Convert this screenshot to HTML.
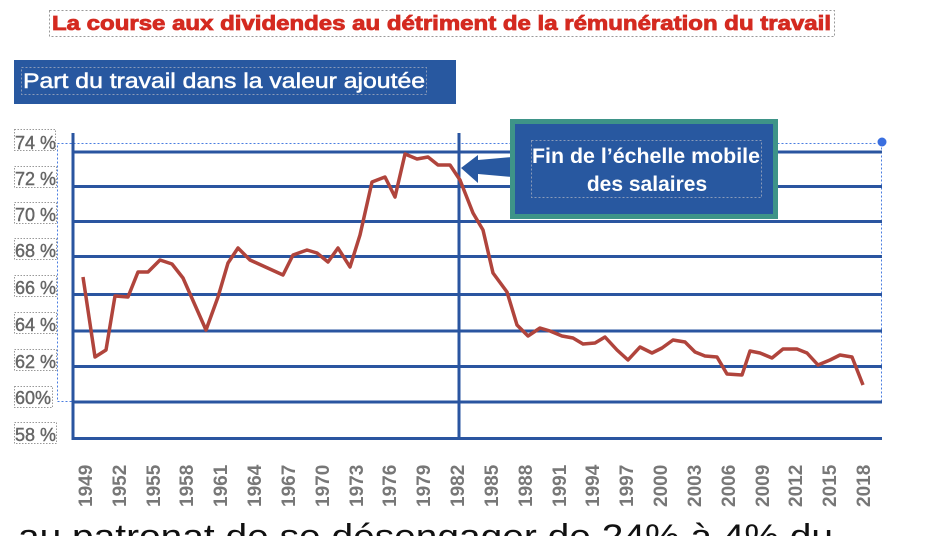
<!DOCTYPE html>
<html><head><meta charset="utf-8"><style>
html,body{margin:0;padding:0;background:#fff;width:940px;height:536px;overflow:hidden}
svg{display:block}
</style></head><body>
<svg width="940" height="536" viewBox="0 0 940 536" xmlns="http://www.w3.org/2000/svg" font-family="Liberation Sans, sans-serif">
<!-- title -->
<rect x="49.5" y="10.5" width="785" height="26" fill="none" stroke="#999" stroke-dasharray="2,2"/>
<text x="52" y="30" font-size="20" font-weight="bold" fill="#d42a20" stroke="#d42a20" stroke-width="0.8" textLength="779" lengthAdjust="spacingAndGlyphs">La course aux dividendes au détriment de la rémunération du travail</text>
<!-- subtitle box -->
<rect x="14" y="60" width="442" height="44" fill="#2858a0"/>
<rect x="21.5" y="67.5" width="405" height="27" fill="none" stroke="#8a9ab8" stroke-dasharray="2,2"/>
<text x="23" y="88" font-size="21" fill="#fff" stroke="#fff" stroke-width="0.5" textLength="402" lengthAdjust="spacingAndGlyphs">Part du travail dans la valeur ajoutée</text>
<!-- y labels -->
<g font-size="18" fill="#666" stroke="#666" stroke-width="0.4">
<text x="15" y="149">74 %</text>
<text x="15" y="185">72 %</text>
<text x="15" y="221">70 %</text>
<text x="15" y="257">68 %</text>
<text x="15" y="294">66 %</text>
<text x="15" y="331">64 %</text>
<text x="15" y="368">62 %</text>
<text x="15" y="404">60%</text>
<text x="15" y="441">58 %</text>
</g>
<g fill="none" stroke="#999" stroke-dasharray="1.5,1.5">
<rect x="14.5" y="129.5" width="41" height="21"/>
<rect x="14.5" y="166.5" width="42" height="21"/>
<rect x="14.5" y="202.5" width="42" height="21"/>
<rect x="14.5" y="238.5" width="42" height="21"/>
<rect x="14.5" y="275.5" width="42" height="21"/>
<rect x="14.5" y="312.5" width="42" height="21"/>
<rect x="14.5" y="349.5" width="42" height="21"/>
<rect x="14.5" y="386.5" width="38" height="21"/>
<rect x="14.5" y="422.5" width="42" height="21"/>
</g>
<!-- selection dotted -->
<rect x="57.5" y="143.5" width="824" height="258" fill="none" stroke="#4a7de0" stroke-dasharray="2,2"/>
<!-- grid -->
<g stroke="#2a55a0" stroke-width="3">
<line x1="73" y1="152" x2="882" y2="152"/>
<line x1="73" y1="186.5" x2="882" y2="186.5"/>
<line x1="73" y1="221.5" x2="882" y2="221.5"/>
<line x1="73" y1="256.5" x2="882" y2="256.5"/>
<line x1="73" y1="294.5" x2="882" y2="294.5"/>
<line x1="73" y1="331" x2="882" y2="331"/>
<line x1="73" y1="366.5" x2="882" y2="366.5"/>
<line x1="73" y1="402" x2="882" y2="402"/>
<line x1="73" y1="438.5" x2="882" y2="438.5"/>
<line x1="73" y1="133" x2="73" y2="440"/>
<line x1="459" y1="133" x2="459" y2="440"/>
</g>
<circle cx="882" cy="142" r="5" fill="#3a6fe0" stroke="#fff" stroke-width="1"/>
<!-- series -->
<polyline fill="none" stroke="#b0443c" stroke-width="3.5" stroke-linejoin="round" points="83,277 95,357 106,350 115,296 128,297 138,272 148,272 160,260 172,264 183,278 206,330 218,297 228,263 238,248 250,260 283,275 293,255 307,250 317,253 328,262 338,248 350,267 360,235 372,182 385,177 395,197 405,154 417,159 428,157 438,165 450,165 460,180 473,213 483,230 493,273 507,292 517,325 528,336 540,328 550,331 562,336 573,338 583,344 595,343 605,337 617,350 628,360 640,347 652,353 662,348 673,340 685,342 695,352 705,356 717,357 727,374 742,375 750,351 760,353 772,358 783,349 797,349 807,353 818,365 830,360 840,355 852,357 863,385"/>
<!-- arrow -->
<polygon points="461,168 478,155 478,160 512,157 512,177 478,174 478,183" fill="#2858a0"/>
<!-- annotation box -->
<rect x="510" y="119" width="268" height="100" fill="#3e9488"/>
<rect x="515" y="124" width="258" height="90" fill="#2858a0"/>
<rect x="531.5" y="140.5" width="230" height="57" fill="none" stroke="#8a9ab8" stroke-dasharray="2,2"/>
<g font-size="21" font-weight="bold" fill="#fff" text-anchor="middle" font-family="Liberation Sans Narrow, Liberation Sans, sans-serif">
<text x="646" y="163" textLength="228" lengthAdjust="spacingAndGlyphs">Fin de l’échelle mobile</text>
<text x="647" y="191">des salaires</text>
</g>
<!-- x labels -->
<g font-size="19" font-weight="bold" fill="#777">
<text transform="translate(92,507) rotate(-90)">1949</text>
<text transform="translate(126,507) rotate(-90)">1952</text>
<text transform="translate(160,507) rotate(-90)">1955</text>
<text transform="translate(193,507) rotate(-90)">1958</text>
<text transform="translate(227,507) rotate(-90)">1961</text>
<text transform="translate(261,507) rotate(-90)">1964</text>
<text transform="translate(295,507) rotate(-90)">1967</text>
<text transform="translate(329,507) rotate(-90)">1970</text>
<text transform="translate(363,507) rotate(-90)">1973</text>
<text transform="translate(396,507) rotate(-90)">1976</text>
<text transform="translate(430,507) rotate(-90)">1979</text>
<text transform="translate(464,507) rotate(-90)">1982</text>
<text transform="translate(498,507) rotate(-90)">1985</text>
<text transform="translate(532,507) rotate(-90)">1988</text>
<text transform="translate(566,507) rotate(-90)">1991</text>
<text transform="translate(599,507) rotate(-90)">1994</text>
<text transform="translate(633,507) rotate(-90)">1997</text>
<text transform="translate(667,507) rotate(-90)">2000</text>
<text transform="translate(701,507) rotate(-90)">2003</text>
<text transform="translate(735,507) rotate(-90)">2006</text>
<text transform="translate(769,507) rotate(-90)">2009</text>
<text transform="translate(802,507) rotate(-90)">2012</text>
<text transform="translate(836,507) rotate(-90)">2015</text>
<text transform="translate(870,507) rotate(-90)">2018</text>
</g>
<!-- bottom cut text -->
<text x="18" y="548" font-size="34" fill="#111" textLength="815" lengthAdjust="spacingAndGlyphs">au patronat de se désengager de 24% à 4% du</text>
</svg>
</body></html>
